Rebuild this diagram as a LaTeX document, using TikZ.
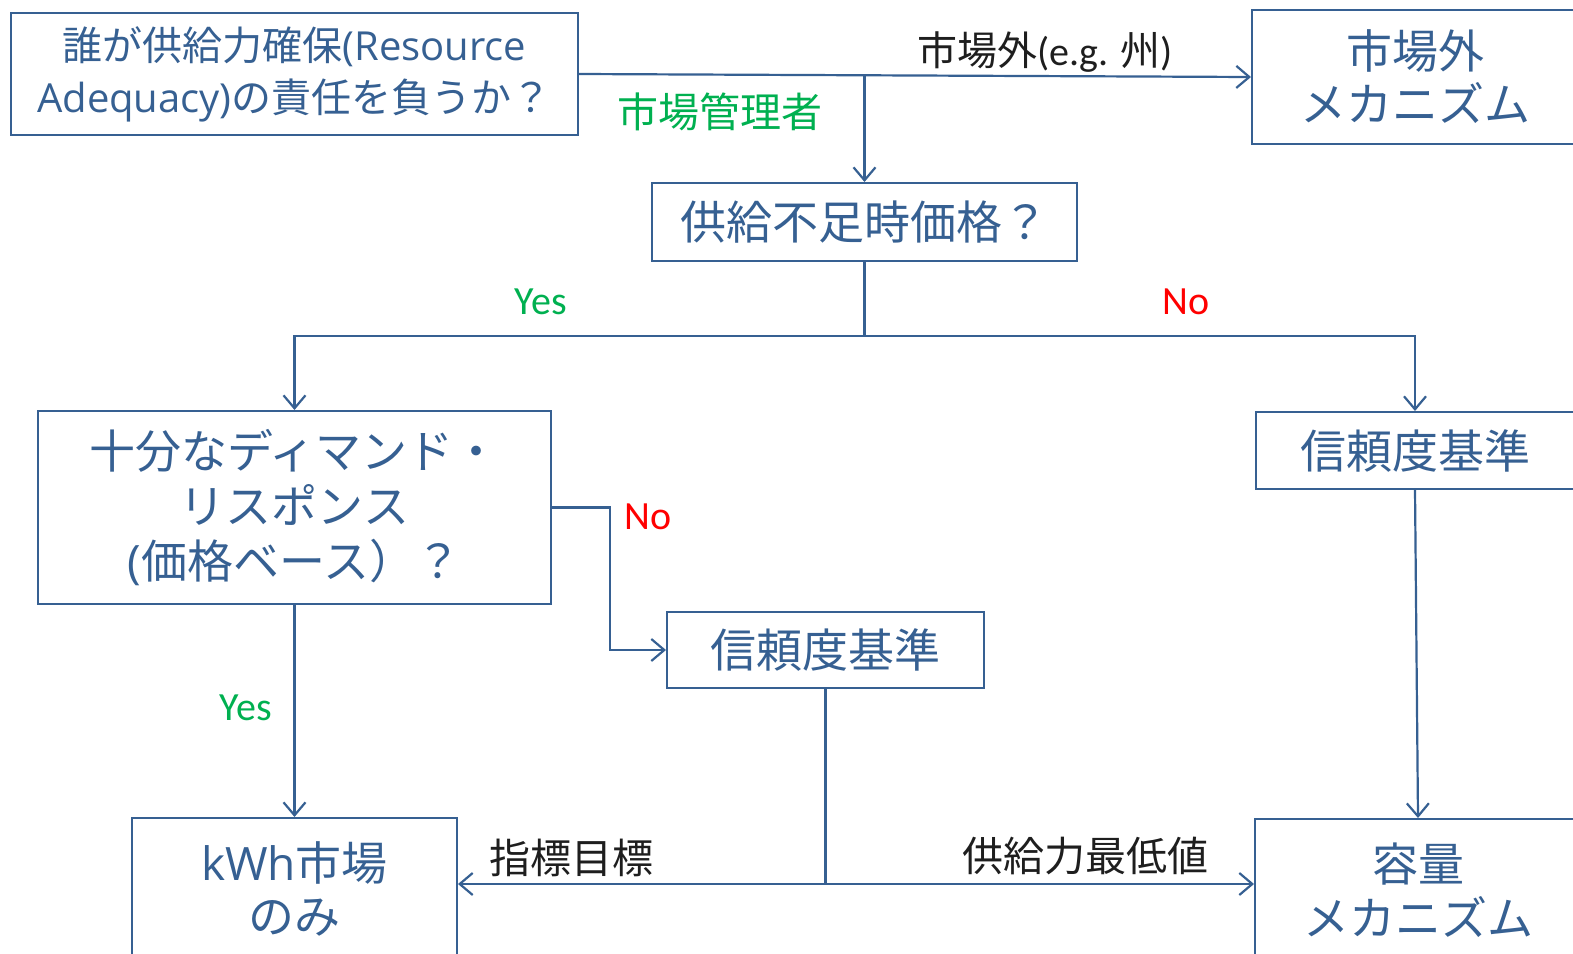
\documentclass[tikz,border=0pt]{standalone}
\usepackage{fontspec}
\setmainfont{Open Sans}
\newfontfamily\jp{Noto Sans CJK JP}
\newfontfamily\calfont{Carlito}
\usetikzlibrary{arrows.meta}
\definecolor{mblue}{RGB}{54,96,146}
\definecolor{mgreen}{RGB}{0,176,80}
\definecolor{mred}{RGB}{255,0,0}
\definecolor{mblack}{RGB}{30,30,30}
\begin{document}
\begin{tikzpicture}[x=1pt,y=-1pt,
  box/.style={draw=mblue, line width=2pt, text=mblue, align=center, inner sep=0pt,
    font=\fontsize{46}{55}\selectfont},
  conn/.style={draw=mblue, line width=2.2pt},
  arr/.style={conn, -{Straight Barb[length=13pt,width=22pt,line width=2.2pt]}},
  lab/.style={inner sep=0pt, font=\fontsize{40}{46}\selectfont},
  yn/.style={inner sep=0pt, font=\calfont\fontsize{40}{46}\selectfont}]
\useasboundingbox (0,0) rectangle (1573,953);

% boxes
\node[box, minimum width=567pt, minimum height=122pt, font=\fontsize{40}{52}\selectfont]
  (q1) at (294.5,74) {{\jp 誰が供給力確保}(Resource\\Adequacy){\jp の責任を負うか？}};
\node[box, minimum width=326pt, minimum height=134pt, font=\fontsize{46}{53}\selectfont]
  (tr) at (1415,77) {\jp 市場外\\\jp メカニズム};
\node[box, minimum width=425pt, minimum height=78pt] (sup) at (864.5,222) {\jp 供給不足時価格？};
\node[box, minimum width=513pt, minimum height=193pt] (dr) at (294.5,507.5)
  {\jp 十分なディマンド・\\\jp リスポンス\\({\jp 価格ベース）？}};
\node[box, minimum width=317pt, minimum height=76pt] (rm) at (825.5,650) {\jp 信頼度基準};
\node[box, minimum width=318pt, minimum height=77pt] (rr) at (1415,450.5) {\jp 信頼度基準};
\node[box, minimum width=325pt, minimum height=142pt, font=\fontsize{46}{53}\selectfont]
  (kwh) at (294.5,889) {kWh{\jp 市場}\\\jp のみ};
\node[box, minimum width=326pt, minimum height=142pt, font=\fontsize{46}{54}\selectfont]
  (cap) at (1418,890) {\jp 容量\\\jp メカニズム};

% connectors
\coordinate (j1) at (sup.north |- q1.east);
\draw[arr] (q1.east) -- (tr.west);
\draw[arr] (j1) -- (sup.north);
\coordinate (j2) at (864.5,336);
\draw[conn] (sup.south) -- (j2);
\draw[arr] (j2) -| (dr.north);
\draw[arr] (j2) -| (rr.north);
\draw[arr] (dr.east) -- ++(58,0) |- (rm.west);
\draw[arr] (dr.south) -- (kwh.north);
\coordinate (j3) at (rm.south |- 0,884);
\draw[conn] (rm.south) -- (j3);
\draw[arr] (j3) -- (kwh.east |- j3);
\draw[arr] (j3) -- (cap.west |- j3);
\draw[arr] (rr.south) -- (cap.north);

% labels
\node[lab, text=mblack] (l1) at (1045,52) {{\jp 市場外}{\calfont(e.g. }{\jp 州}{\calfont)}};
\node[lab, text=mgreen, font=\jp\fontsize{41}{46}\selectfont] (l2) at (720,112) {市場管理者};
\node[yn, text=mgreen] (l3) at (541,302) {Yes};
\node[yn, text=mred] (l4) at (1186,302) {No};
\node[yn, text=mred] (l5) at (648,517) {No};
\node[yn, text=mgreen] (l6) at (246,708) {Yes};
\node[lab, text=mblack, font=\jp\fontsize{41}{46}\selectfont] (l7) at (571,858) {指標目標};
\node[lab, text=mblack, font=\jp\fontsize{41}{46}\selectfont] (l8) at (1085,856) {供給力最低値};
\end{tikzpicture}
\end{document}
